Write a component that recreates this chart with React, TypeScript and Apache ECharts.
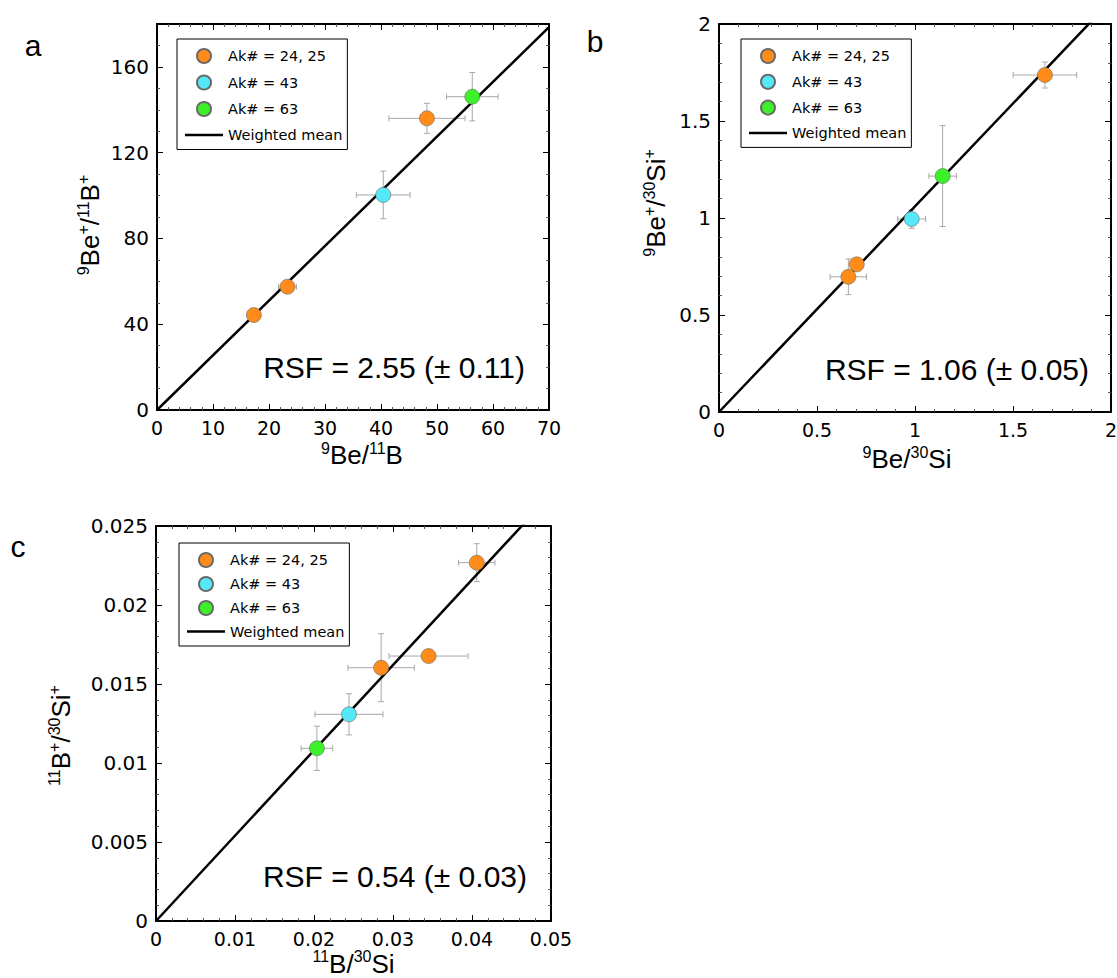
import React, { useEffect, useRef } from 'react';
import * as echarts from 'echarts';

// ---------- legend names / colours ----------
const GROUP_NAMES = ['Ak# = 24, 25', 'Ak# = 43', 'Ak# = 63'];
const LINE_NAME = 'Weighted mean';
const GROUP_COLORS = ['#ff8c1a', '#55e8f8', '#3cf02a'];

// ---------- panel a: 9Be/11B ----------
const aOrangeX = [17.3, 23.3, 48.2];
const aOrangeY = [44.3, 57.5, 136.0];
const aOrangeXErr = [0, 1.6, 6.8];
const aOrangeYErr = [0, 1.0, 7.0];
const aCyanX = [40.4];
const aCyanY = [100.3];
const aCyanXErr = [4.8];
const aCyanYErr = [11.1];
const aGreenX = [56.3];
const aGreenY = [146.1];
const aGreenXErr = [4.6];
const aGreenYErr = [11.3];
const aSlope = 2.55;
const aXTicks = [0, 70, 10, 5];
const aYTicks = [0, 180, 40, 4];

// ---------- panel b: 9Be/30Si ----------
const bOrangeX = [0.66, 0.703, 1.663];
const bOrangeY = [0.697, 0.761, 1.737];
const bOrangeXErr = [0.093, 0.015, 0.162];
const bOrangeYErr = [0.092, 0.02, 0.067];
const bCyanX = [0.983];
const bCyanY = [0.995];
const bCyanXErr = [0.071];
const bCyanYErr = [0.048];
const bGreenX = [1.141];
const bGreenY = [1.216];
const bGreenXErr = [0.07];
const bGreenYErr = [0.26];
const bSlope = 1.06;
const bXTicks = [0, 2, 0.5, 5];
const bYTicks = [0, 2, 0.5, 5];

// ---------- panel c: 11B/30Si ----------
const cOrangeX = [0.0285, 0.0345, 0.0406];
const cOrangeY = [0.01603, 0.01677, 0.02268];
const cOrangeXErr = [0.0042, 0.005, 0.0023];
const cOrangeYErr = [0.00215, 0, 0.0012];
const cCyanX = [0.02443];
const cCyanY = [0.01308];
const cCyanXErr = [0.0043];
const cCyanYErr = [0.0013];
const cGreenX = [0.02037];
const cGreenY = [0.01093];
const cGreenXErr = [0.002];
const cGreenYErr = [0.0014];
const cSlope = 0.54;
const cXTicks = [0, 0.05, 0.01, 5];
const cYTicks = [0, 0.025, 0.005, 5];

const RSF_TEXTS = ['RSF = 2.55 (± 0.11)', 'RSF = 1.06 (± 0.05)', 'RSF = 0.54 (± 0.03)'];
const PANEL_LETTERS = ['a', 'b', 'c'];

const zip = (xs: number[], ys: number[]) => xs.map((x, i) => [x, ys[i]]);
const zip4 = (xs: number[], ys: number[], xe: number[], ye: number[]) =>
  xs.map((x, i) => [x, ys[i], xe[i], ye[i]]);

const panels = [
  {
    groups: [
      [aOrangeX, aOrangeY, aOrangeXErr, aOrangeYErr],
      [aCyanX, aCyanY, aCyanXErr, aCyanYErr],
      [aGreenX, aGreenY, aGreenXErr, aGreenYErr],
    ],
    slope: aSlope, xt: aXTicks, yt: aYTicks, showYMax: false,
    grid: { left: 157, top: 24, width: 392, height: 386 },
    xName: '{s|9}{m|Be/}{s|11}{m|B}',
    yName: '{s|9}{m|Be}{s|+}{m|/}{s|11}{m|B}{s|+}',
    xGap: 30, yGap: 52, xPad: [0, 0, 0, 18], yPad: [0, 16, 0, 0],
    legend: { left: 177, top: 39, gap: 10.5 },
    rsf: { x: 525, y: 367 },
    letter: { x: 33, y: 45 },
  },
  {
    groups: [
      [bOrangeX, bOrangeY, bOrangeXErr, bOrangeYErr],
      [bCyanX, bCyanY, bCyanXErr, bCyanYErr],
      [bGreenX, bGreenY, bGreenXErr, bGreenYErr],
    ],
    slope: bSlope, xt: bXTicks, yt: bYTicks, showYMax: true,
    grid: { left: 719, top: 24, width: 392, height: 388 },
    xName: '{s|9}{m|Be/}{s|30}{m|Si}',
    yName: '{s|9}{m|Be}{s|+}{m|/}{s|30}{m|Si}{s|+}',
    xGap: 32, yGap: 48, xPad: [0, 16, 0, 0], yPad: [0, 0, 0, 30],
    legend: { left: 741, top: 39, gap: 9.8 },
    rsf: { x: 1089, y: 369 },
    letter: { x: 595, y: 41 },
  },
  {
    groups: [
      [cOrangeX, cOrangeY, cOrangeXErr, cOrangeYErr],
      [cCyanX, cCyanY, cCyanXErr, cCyanYErr],
      [cGreenX, cGreenY, cGreenXErr, cGreenYErr],
    ],
    slope: cSlope, xt: cXTicks, yt: cYTicks, showYMax: true,
    grid: { left: 156, top: 526, width: 395, height: 395 },
    xName: '{s|11}{m|B/}{s|30}{m|Si}',
    yName: '{s|11}{m|B}{s|+}{m|/}{s|30}{m|Si}{s|+}',
    xGap: 27, yGap: 80, xPad: [0, 0, 0, 0], yPad: [0, 24, 0, 0],
    legend: { left: 179, top: 543, gap: 8 },
    rsf: { x: 527, y: 876 },
    letter: { x: 18, y: 546 },
  },
];

const NAME_RICH = {
  m: { fontSize: 26, fontFamily: 'Liberation Sans', color: '#000', lineHeight: 30 },
  s: { fontSize: 16, fontFamily: 'Liberation Sans', color: '#000', lineHeight: 16, verticalAlign: 'top' },
};

function makeAxis(t: number[], gridIndex: number, position: string, withLabel: boolean, fontSize: number, showMax: boolean) {
  return {
    type: 'value',
    gridIndex,
    position,
    min: t[0],
    max: t[1],
    interval: t[2],
    axisLine: { show: true, onZero: false, lineStyle: { color: '#000', width: 2 } },
    axisTick: { show: true, inside: true, length: 6, lineStyle: { color: '#000', width: 1 } },
    minorTick: { show: true, splitNumber: t[3], length: 3, lineStyle: { color: '#555', width: 1 } },
    splitLine: { show: false },
    minorSplitLine: { show: false },
    axisLabel: {
      show: withLabel,
      color: '#000',
      fontSize,
      fontFamily: 'DejaVu Sans',
      margin: 8,
      showMaxLabel: showMax,
      showMinLabel: true,
    },
  };
}

function buildOption() {
  const grid: any[] = [];
  const xAxis: any[] = [];
  const yAxis: any[] = [];
  const series: any[] = [];
  const legend: any[] = [];
  const graphic: any[] = [];

  panels.forEach((p, i) => {
    grid.push({ ...p.grid, outerBoundsMode: 'none', containLabel: false });
    const xb: any = makeAxis(p.xt, i, 'bottom', true, 19, true);
    xb.name = p.xName;
    xb.nameLocation = 'middle';
    xb.nameGap = p.xGap;
    xb.nameTextStyle = { rich: NAME_RICH, padding: p.xPad };
    const xt: any = makeAxis(p.xt, i, 'top', false, 19, true);
    const yl: any = makeAxis(p.yt, i, 'left', true, 20, p.showYMax);
    yl.name = p.yName;
    yl.nameLocation = 'middle';
    yl.nameGap = p.yGap;
    yl.nameRotate = 90;
    yl.nameTextStyle = { rich: NAME_RICH, padding: p.yPad };
    const yr: any = makeAxis(p.yt, i, 'right', false, 20, true);
    xAxis.push(xb, xt);
    yAxis.push(yl, yr);
    const xi = 2 * i;
    const yi = 2 * i;

    p.groups.forEach((g, gi) => {
      series.push({
        type: 'custom',
        name: 'err' + i + gi,
        xAxisIndex: xi,
        yAxisIndex: yi,
        z: 2,
        silent: true,
        encode: { x: 0, y: 1 },
        data: zip4(g[0], g[1], g[2], g[3]),
        renderItem: (params: any, api: any) => {
          const x = api.value(0);
          const y = api.value(1);
          const xe = api.value(2);
          const ye = api.value(3);
          const style = { stroke: '#a8a8a8', lineWidth: 1 };
          const cap = 3;
          const children: any[] = [];
          if (xe > 0) {
            const l = api.coord([x - xe, y]);
            const r = api.coord([x + xe, y]);
            children.push({ type: 'line', shape: { x1: l[0], y1: l[1], x2: r[0], y2: r[1] }, style });
            children.push({ type: 'line', shape: { x1: l[0], y1: l[1] - cap, x2: l[0], y2: l[1] + cap }, style });
            children.push({ type: 'line', shape: { x1: r[0], y1: r[1] - cap, x2: r[0], y2: r[1] + cap }, style });
          }
          if (ye > 0) {
            const t = api.coord([x, y + ye]);
            const b = api.coord([x, y - ye]);
            children.push({ type: 'line', shape: { x1: t[0], y1: t[1], x2: b[0], y2: b[1] }, style });
            children.push({ type: 'line', shape: { x1: t[0] - cap, y1: t[1], x2: t[0] + cap, y2: t[1] }, style });
            children.push({ type: 'line', shape: { x1: b[0] - cap, y1: b[1], x2: b[0] + cap, y2: b[1] }, style });
          }
          return { type: 'group', children };
        },
      });
    });

    series.push({
      type: 'line',
      name: LINE_NAME,
      xAxisIndex: xi,
      yAxisIndex: yi,
      z: 3,
      clip: true,
      showSymbol: false,
      symbol: 'none',
      silent: true,
      color: '#000',
      itemStyle: { color: '#000' },
      lineStyle: { color: '#000', width: 2.5 },
      data: [
        [p.xt[0], p.slope * p.xt[0]],
        [p.xt[1], p.slope * p.xt[1]],
      ],
    });

    p.groups.forEach((g, gi) => {
      series.push({
        type: 'scatter',
        name: GROUP_NAMES[gi],
        xAxisIndex: xi,
        yAxisIndex: yi,
        z: 5,
        symbol: 'circle',
        symbolSize: 15,
        silent: true,
        color: GROUP_COLORS[gi],
        itemStyle: { color: GROUP_COLORS[gi], borderColor: '#6a6a6a', borderWidth: 0.6, opacity: 1 },
        data: zip(g[0], g[1]),
      });
    });

    legend.push({
      show: true,
      orient: 'vertical',
      left: p.legend.left,
      top: p.legend.top,
      itemWidth: 38,
      itemHeight: 14,
      itemGap: p.legend.gap,
      padding: [9, 5, 7, 8],
      borderColor: '#000',
      borderWidth: 1,
      borderRadius: 0,
      backgroundColor: '#fff',
      selectedMode: false,
      textStyle: { color: '#000', fontSize: 14.5, fontFamily: 'DejaVu Sans' },
      data: [
        { name: GROUP_NAMES[0], icon: 'circle' },
        { name: GROUP_NAMES[1], icon: 'circle' },
        { name: GROUP_NAMES[2], icon: 'circle' },
        { name: LINE_NAME, icon: 'path://M0,0H38V2.5H0Z' },
      ],
    });

    graphic.push({
      type: 'text',
      x: p.rsf.x,
      y: p.rsf.y,
      z: 10,
      style: {
        text: RSF_TEXTS[i],
        fontSize: 30,
        fontFamily: 'Liberation Sans',
        fill: '#000',
        align: 'right',
        verticalAlign: 'middle',
      },
    });
    graphic.push({
      type: 'text',
      x: p.letter.x,
      y: p.letter.y,
      z: 10,
      style: {
        text: PANEL_LETTERS[i],
        fontSize: 30,
        fontFamily: 'Liberation Sans',
        fill: '#000',
        align: 'center',
        verticalAlign: 'middle',
      },
    });
  });

  return {
    animation: false,
    backgroundColor: '#fff',
    grid,
    xAxis,
    yAxis,
    series,
    legend,
    graphic,
    tooltip: { show: false },
  };
}

export default function App() {
  const ref = useRef<HTMLDivElement>(null);
  useEffect(() => {
    if (!ref.current) return;
    const chart = echarts.init(ref.current, null, { renderer: 'svg' });
    chart.setOption(buildOption() as any);
    return () => chart.dispose();
  }, []);
  return (
    <div
      ref={ref}
      style={{ position: 'absolute', left: 0, top: 0, width: 1117, height: 978, background: '#fff' }}
    />
  );
}
